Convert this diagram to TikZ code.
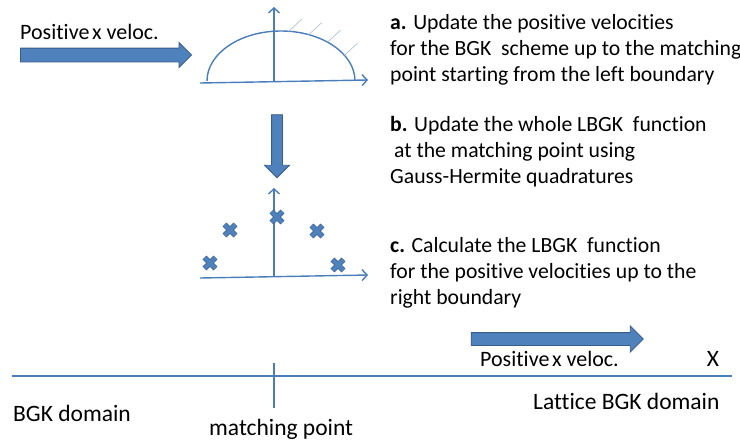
\documentclass[tikz,border=0pt]{standalone}
\usepackage{fontspec}
\setmainfont{Carlito}[Ligatures=NoCommon]
\usepackage{tikz}
\usetikzlibrary{arrows.meta,positioning,shapes.arrows,shapes.misc}
\definecolor{BGKblue}{HTML}{4F81BD}
\definecolor{BGKdark}{HTML}{385D8A}
\definecolor{axisblue}{HTML}{4A7EBB}
\definecolor{hatchgray}{HTML}{B4C0D4}
\tikzset{
  txt/.style={font=\fontsize{23.5}{26}\selectfont, inner sep=0pt, align=left},
  veltxt/.style={font=\fontsize{22}{26}\selectfont, inner sep=0pt},
  steptxt/.style={font=\fontsize{21.7}{26}\selectfont, inner sep=0pt, align=left},
  fatarrow/.style={single arrow, draw=BGKdark, fill=BGKblue, line width=0.8pt, single arrow head indent=0pt, inner sep=0pt},
  axis/.style={draw=axisblue, line width=1.4pt, -{Straight Barb[length=5pt,width=11pt]}},
  domline/.style={draw=axisblue, line width=1.4pt},
  quadpt/.style={cross out, draw=BGKdark, double=BGKblue, double distance=4pt, line width=0.8pt, minimum size=10pt, inner sep=0pt},
  hatch/.style={draw=hatchgray, line width=0.7pt}
}

\begin{document}
\begin{tikzpicture}[x=1pt, y=-1pt]
\useasboundingbox (0,0) rectangle (740,445);
% velocity arrows
\node[fatarrow, minimum height=171pt, inner ysep=6.5pt, single arrow head extend=5.5pt] (velin) at (102.5,55) {};
\node[veltxt, anchor=base west] (velintxt) at (20,39) {Positive\hspace{0.12em}x veloc.};
\node[fatarrow, minimum height=63pt, inner ysep=5pt, single arrow head extend=7pt, rotate=-90] (step) at (277,143.5) {};
\node[fatarrow, minimum height=172pt, inner ysep=6pt, single arrow head extend=6.5pt] (velout) at (554,339) {};
\node[veltxt, anchor=base west] (velouttxt) at (480,366) {Positive\hspace{0.12em}x veloc.};
\node[txt, anchor=base] (xlab) at (713,366) {X};

% BGK distribution (upper plot)
\coordinate (o1) at (274,82);
\coordinate (x1a) at (200,83);
\coordinate (x1b) at (368,80);
\coordinate (y1) at (274,7);
\coordinate (ell) at (281,81);
\draw[axis] (x1a) -- (x1b);
\draw[axis] (o1) -- (y1);
\draw[domline] (ell) ++(74pt,0) arc[start angle=0, end angle=180, x radius=74pt, y radius=50pt];
\foreach \a in {84,68,51,31}
  \draw[hatch] (ell) ++(\a:74pt and 50pt) -- ++(13,-12);

% Gauss-Hermite points (lower plot)
\coordinate (o2) at (274,276);
\coordinate (x2a) at (200,278);
\coordinate (x2b) at (368,275);
\coordinate (y2) at (274,188);
\draw[axis] (x2a) -- (x2b);
\draw[axis] (o2) -- (y2);
\node[quadpt] (q1) at (210,263) {};
\node[quadpt] (q2) at (230,230) {};
\node[quadpt] (q3) at (277,217) {};
\node[quadpt] (q4) at (317,231) {};
\node[quadpt] (q5) at (338,265) {};

% steps (base = last line)
\node[steptxt, anchor=base west] (stepa) at (390,81) {\textbf{a.} Update the positive velocities\\for the BGK~ scheme up to the matching\\point starting from the left boundary};
\node[steptxt, anchor=base west] (stepb) at (390,183) {\textbf{b.} Update the whole LBGK~ function\\\hspace{4pt}at the matching point using\\Gauss-Hermite quadratures};
\node[steptxt, anchor=base west] (stepc) at (390,304) {\textbf{c.} Calculate the LBGK~ function\\for the positive velocities up to the\\right boundary};

% domain line
\coordinate (dl) at (12,376);
\coordinate (dr) at (732,376);
\coordinate (mtop) at (274,363);
\coordinate (mbot) at (274,408);
\draw[domline] (dl) -- (dr);
\draw[domline] (mtop) -- (mbot);
\node[txt, anchor=base west] (bgk) at (13,421) {BGK domain};
\node[txt, anchor=base west] (match) at (209,435) {matching point};
\node[txt, anchor=base west] (lbgk) at (533,409) {Lattice BGK domain};
\end{tikzpicture}
\end{document}
